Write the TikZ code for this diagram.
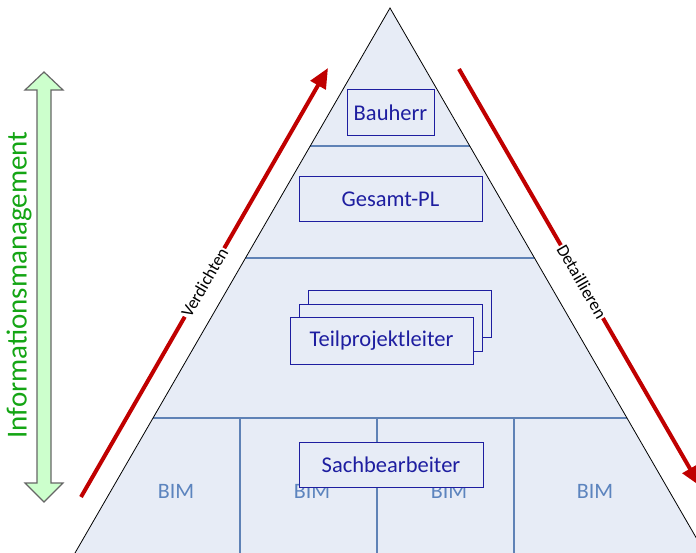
\documentclass[tikz,border=0pt]{standalone}
\usepackage{fontspec}
\setmainfont{Carlito}
\usetikzlibrary{arrows.meta}
\definecolor{pyrfill}{RGB}{231,236,246}
\definecolor{divline}{RGB}{95,130,182}
\definecolor{boxblue}{RGB}{30,30,160}
\definecolor{bimblue}{RGB}{92,132,190}
\definecolor{arrred}{RGB}{192,0,0}
\definecolor{infogreen}{RGB}{20,165,20}
\definecolor{arrgreen}{RGB}{204,255,204}
\tikzset{
  rolebox/.style={draw=boxblue, line width=1pt, fill=pyrfill, text=boxblue,
    font=\fontsize{22.5}{25}\selectfont, inner sep=0pt},
  divider/.style={draw=divline, line width=2pt},
  bimlabel/.style={text=bimblue, font=\fontsize{22}{24}\selectfont},
  redarrow/.style={draw=arrred, line width=4pt, -{Triangle[length=20pt,width=17pt]}},
  arrlabel/.style={fill=white, inner sep=1pt, font=\fontsize{17.5}{20}\selectfont, sloped}
}
\begin{document}
\begin{tikzpicture}[x=1pt,y=-1pt]
\useasboundingbox (0,0) rectangle (696,553);
% pyramid
\coordinate (apex) at (390,8);
\coordinate (bl) at (75,553);
\coordinate (br) at (705,553);
\fill[pyrfill] (apex) -- (bl) -- (br) -- cycle;
% dividers
\draw[divider] (310.3,146) -- (469.7,146);
\draw[divider] (245.7,258) -- (534.3,258);
\draw[divider] (153.3,418) -- (626.7,418);
\draw[divider] (240,418) -- (240,553);
\draw[divider] (377,418) -- (377,553);
\draw[divider] (514,418) -- (514,553);
\draw[black, line width=0.8pt] (bl) -- (apex) -- (br);
% BIM labels
\node[bimlabel] (bim1) at (176,491) {BIM};
\node[bimlabel] (bim2) at (312,491) {BIM};
\node[bimlabel] (bim3) at (449,491) {BIM};
\node[bimlabel] (bim4) at (595,491) {BIM};
% boxes
\node[rolebox, minimum width=87pt, minimum height=46pt] (bauherr) at (390.5,113) {Bauherr};
\node[rolebox, minimum width=183pt, minimum height=45pt] (gesamt) at (390.5,199.5) {Gesamt-PL};
\node[rolebox, minimum width=183pt, minimum height=46pt] (tp3) at (400,314) {};
\node[rolebox, minimum width=183pt, minimum height=46pt] (tp2) at (390.5,328) {};
\node[rolebox, minimum width=183pt, minimum height=46pt] (tp1) at (381.5,341) {Teilprojektleiter};
\node[rolebox, minimum width=184pt, minimum height=45pt] (sach) at (391,464.5) {Sachbearbeiter};
% red arrows
\coordinate (v0) at (81,497);
\coordinate (v1) at (328,68);
\coordinate (d0) at (459,69);
\coordinate (d1) at (700,486);
\draw[redarrow] (v0) -- node[arrlabel, pos=0.5, text=black] (verd) {Verdichten} (v1);
\draw[redarrow] (d0) -- node[arrlabel, pos=0.51, text=black] (detail) {Detaillieren} (d1);
% green double arrow
\draw[draw=black!60, line width=1.2pt, fill=arrgreen]
  (44,72) -- (63,90) -- (51,90) -- (51,483) -- (63,483) -- (44,502) -- (25,483)
  -- (37,483) -- (37,90) -- (25,90) -- cycle;
\node[rotate=90, text=infogreen, font=\fontsize{29}{32}\selectfont] (info) at (19,285) {Informationsmanagement};
\end{tikzpicture}
\end{document}
